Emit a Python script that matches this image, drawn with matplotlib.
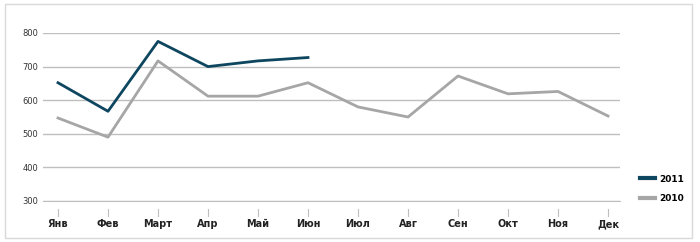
import matplotlib.pyplot as plt
from matplotlib.patches import Rectangle

months = ["Янв", "Фев", "Март", "Апр", "Май", "Июн",
          "Июл", "Авг", "Сен", "Окт", "Ноя", "Дек"]
sales_2011 = [652, 567, 775, 700, 717, 727]
sales_2010 = [547, 490, 717, 612, 612, 652, 580, 550, 672, 619, 626, 553]
yticks = [300, 400, 500, 600, 700, 800]

c2011 = "#0e4660"
c2010 = "#a6a6a6"

fig = plt.figure(figsize=(7.0, 2.42), dpi=100)
ax = fig.add_axes([43 / 700, 1 - 201 / 242, (620 - 43) / 700, (201 - 33) / 242])

x10 = list(range(len(sales_2010)))
x11 = list(range(len(sales_2011)))
ax.plot(x10, sales_2010, color=c2010, lw=2, label="2010", zorder=3)
ax.plot(x11, sales_2011, color=c2011, lw=2, label="2011", zorder=4)

ax.set_ylim(300, 800)
ax.set_xlim(-0.3, 11.24)
ax.set_yticks(yticks)
ax.set_yticklabels([str(v) for v in yticks], fontsize=6, color="#333333")
ax.grid(axis="y", color="#bfbfbf", lw=1)
ax.set_axisbelow(True)
for s in ["top", "right", "left"]:
    ax.spines[s].set_visible(False)
ax.spines["bottom"].set_color("#bfbfbf")
ax.tick_params(axis="y", length=0, pad=3.5)

ax.set_xticks(x10)
ax.set_xticklabels(months, fontsize=7, fontweight="bold", color="#222222")
ax.tick_params(axis="x", length=0, pad=19)
for lbl in ax.get_xticklabels():
    lbl.set_verticalalignment("baseline")
for i in x10:
    ax.plot([i, i], [-0.05, -0.09], transform=ax.get_xaxis_transform(),
            color="#bfbfbf", lw=0.8, clip_on=False)

handles, labels = ax.get_legend_handles_labels()
leg = fig.legend(handles[::-1], labels[::-1], loc="center left",
                 bbox_to_anchor=(632 / 700, 1 - 189 / 242), frameon=False,
                 prop={"size": 6.5, "weight": "bold"}, handlelength=1.6,
                 labelspacing=1.2, handletextpad=0.5)
for h in leg.get_lines():
    h.set_linewidth(3)

fig.patches.append(Rectangle((5 / 700, 4 / 242), 687 / 700, 234 / 242,
                             transform=fig.transFigure, fill=False,
                             edgecolor="#d9d9d9", lw=1))

fig.savefig("out.png", dpi=100)
